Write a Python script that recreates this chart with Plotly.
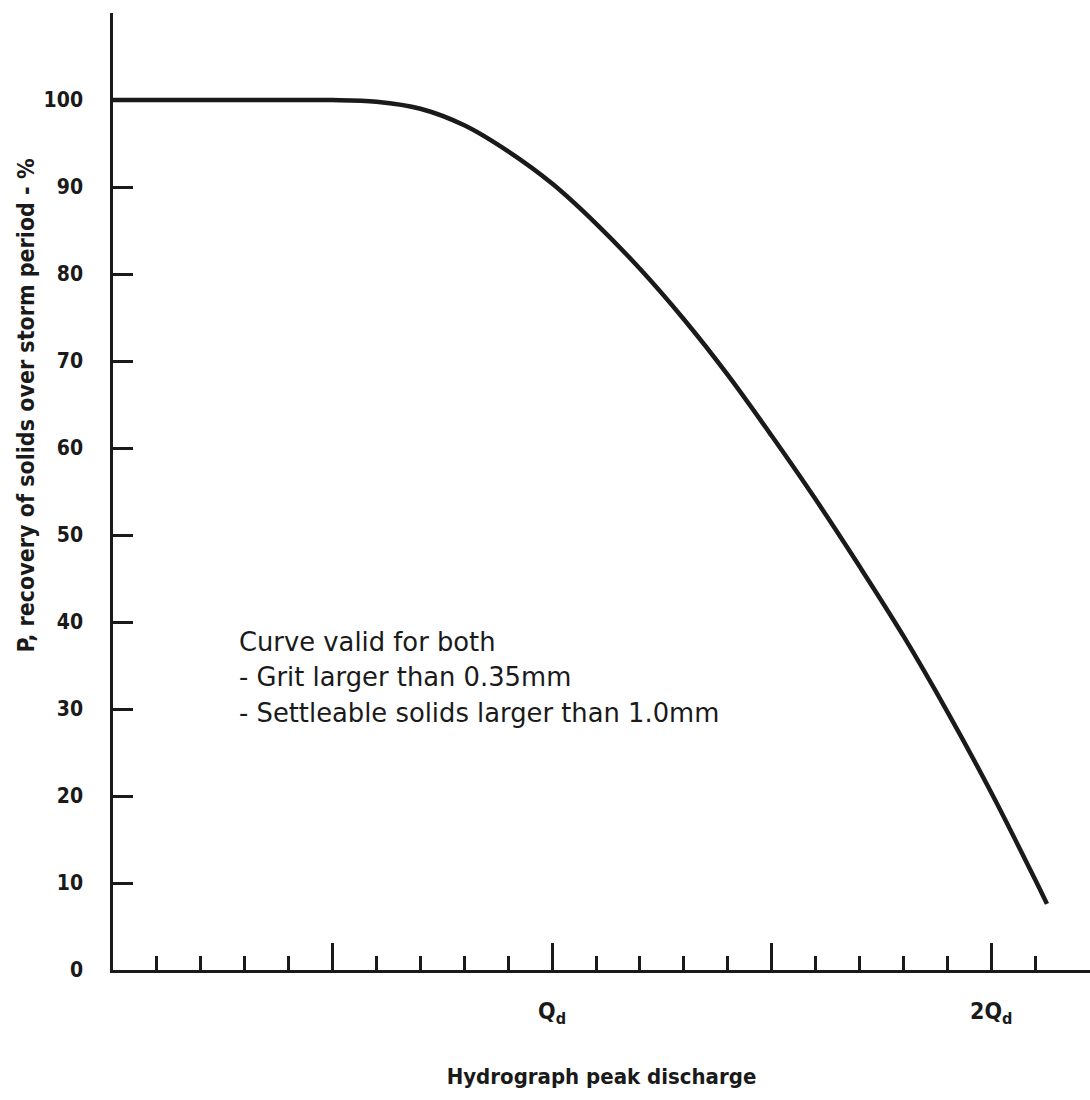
import plotly.graph_objects as go

# Recovery curve: hydrograph peak discharge (in multiples of Qd) vs P (%)
discharge = [0, 0.1, 0.2, 0.3, 0.4, 0.5, 0.6, 0.7, 0.8, 0.9, 1.0, 1.1, 1.2,
             1.3, 1.4, 1.5, 1.6, 1.7, 1.8, 1.9, 2.0, 2.1, 2.127]
recovery = [100, 100, 100, 100, 100, 100, 99.8, 99.0, 97.1, 94.1, 90.4, 85.8,
            80.6, 74.8, 68.4, 61.4, 54.1, 46.4, 38.4, 29.7, 20.4, 10.4, 7.6]

y_ticks = [0, 10, 20, 30, 40, 50, 60, 70, 80, 90, 100]
x_labelled = [1.0, 2.0]
x_labelled_text = ["Q<sub>d</sub>", "2Q<sub>d</sub>"]
x_half = [0.5, 1.5]
x_minor = [0.1, 0.2, 0.3, 0.4, 0.6, 0.7, 0.8, 0.9, 1.1, 1.2, 1.3, 1.4,
           1.6, 1.7, 1.8, 1.9, 2.1]

note_lines = [
    "Curve valid for both",
    "- Grit larger than 0.35mm",
    "- Settleable solids larger than 1.0mm",
]
note_x = 0.283
note_y = [39.65, 35.6, 31.5]

FONT = "DejaVu Sans Condensed"
INK = "#1a1a1a"
X_RANGE = [0, 2.225]

fig = go.Figure()
fig.add_trace(go.Scatter(
    x=discharge, y=recovery, mode="lines",
    line=dict(color=INK, width=4.5, shape="spline", smoothing=1.0),
    showlegend=False, hoverinfo="skip",
))

fig.update_layout(
    width=1090, height=1100,
    margin=dict(l=113, r=0, t=13, b=130),
    paper_bgcolor="white", plot_bgcolor="white",
    font=dict(family=FONT, color=INK),
    xaxis=dict(
        range=X_RANGE, showgrid=False, zeroline=False,
        showline=True, linecolor=INK, linewidth=2.5,
        tickmode="array", tickvals=x_labelled, ticktext=x_labelled_text,
        ticks="inside", ticklen=27, tickwidth=2.5, tickcolor=INK,
        ticklabelstandoff=19,
        tickfont=dict(family=FONT, size=23, color=INK, weight="bold"),
        minor=dict(tickmode="array", tickvals=x_minor, ticks="inside",
                   ticklen=14, tickwidth=2.5, tickcolor=INK, showgrid=False),
        title=dict(text="Hydrograph peak discharge", standoff=42,
                   font=dict(family=FONT, size=22, color=INK, weight="bold")),
    ),
    # overlaid axis carrying the long unlabelled ticks at 0.5 Qd and 1.5 Qd
    xaxis2=dict(
        overlaying="x", side="bottom", anchor="y", matches="x",
        range=X_RANGE, showgrid=False, zeroline=False, showline=False,
        tickmode="array", tickvals=x_half, showticklabels=False,
        ticks="inside", ticklen=27, tickwidth=2.5, tickcolor=INK,
    ),
    yaxis=dict(
        range=[0, 110], showgrid=False, zeroline=False,
        showline=True, linecolor=INK, linewidth=2.5,
        tickmode="array", tickvals=y_ticks,
        ticks="inside", ticklen=20, tickwidth=2.5, tickcolor=INK,
        ticklabelstandoff=23,
        tickfont=dict(family=FONT, size=21, color=INK, weight="bold"),
    ),
)

# invisible trace so the overlaid axis is drawn
fig.add_trace(go.Scatter(
    x=[X_RANGE[0]], y=[0], xaxis="x2", mode="markers",
    marker=dict(opacity=0), showlegend=False, hoverinfo="skip",
))

# rotated y-axis caption
fig.add_annotation(
    text="P, recovery of solids over storm period - %",
    xref="paper", yref="paper", x=-0.089, y=0.59,
    xanchor="center", yanchor="middle", textangle=-90, showarrow=False,
    font=dict(family=FONT, size=23, color=INK, weight="bold"),
)

# validity note, one line per annotation
for line, y in zip(note_lines, note_y):
    fig.add_annotation(
        text=line, xref="x", yref="y", x=note_x, y=y,
        xanchor="left", yanchor="top", align="left", showarrow=False,
        font=dict(family="DejaVu Sans", size=25.8, color=INK),
    )

fig.write_html("out.html")
